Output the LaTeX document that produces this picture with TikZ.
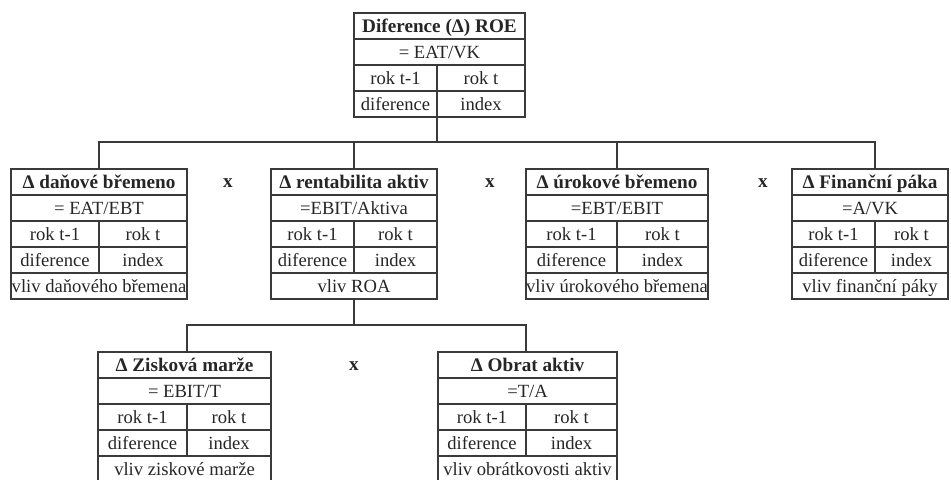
\documentclass[tikz,border=0pt]{standalone}
\usepackage{fontspec}
\setmainfont{Liberation Serif}
\usetikzlibrary{fit}
\definecolor{ln}{HTML}{3A3A3A}
\definecolor{tx}{HTML}{262626}
\tikzset{
  frame/.style={draw=ln, line width=0.7pt, inner sep=0pt},
  wire/.style={draw=ln, line width=0.7pt},
  cell/.style={text=tx, font=\fontsize{9.3}{11}\selectfont, inner sep=0pt, anchor=base},
  head/.style={cell, font=\fontsize{9.6}{11}\selectfont\bfseries},
  timesmark/.style={text=tx, font=\fontsize{9.6}{11}\selectfont\bfseries, inner sep=0pt, anchor=center},
}
\newcommand\finbox[9]{%
  \node[frame, fit={(#2,#3) (#4,#6)}] (#1) {};
  \draw[wire] (#2,#3+26) -- (#4,#3+26);
  \draw[wire] (#2,#3+52) -- (#4,#3+52);
  \draw[wire] (#2,#3+78) -- (#4,#3+78);
  \draw[wire] (#5,#3+52) -- (#5,#3+104);
  \coordinate (#1top) at (#5,#3);
  \coordinate (#1bot) at (#5,#6);
  \node[head] (#1t) at ({(#2+#4)/2},#3+19.5) {#7};
  \node[cell] (#1f) at ({(#2+#4)/2},#3+45.5) {#8};
  \node[cell] (#1a) at ({(#2+#5)/2},#3+71.5) {rok t-1};
  \node[cell] (#1b) at ({(#5+#4)/2},#3+71.5) {rok t};
  \node[cell] (#1c) at ({(#2+#5)/2},#3+97.5) {diference};
  \node[cell] (#1d) at ({(#5+#4)/2},#3+97.5) {index};
  \if\relax\detokenize{#9}\relax\else
    \draw[wire] (#2,#3+104) -- (#4,#3+104);
    \node[cell] (#1v) at ({(#2+#4)/2},#3+123.5) {#9};
  \fi
}
\begin{document}
\begin{tikzpicture}[x=0.5pt,y=-0.5pt]
\clip (0,0) rectangle (951,480);
\fill[white] (0,0) rectangle (951,480);

\finbox{roe}{354}{13}{525}{437}{117}{Diference (Δ) ROE}{= EAT/VK}{}
\finbox{b1}{11}{169}{187}{99}{299}{Δ daňové břemeno}{= EAT/EBT}{vliv daňového břemena}
\finbox{b2}{271}{169}{437}{354}{299}{Δ rentabilita aktiv}{=EBIT/Aktiva}{vliv ROA}
\finbox{b3}{526}{169}{708}{617}{299}{Δ úrokové břemeno}{=EBT/EBIT}{vliv úrokového břemena}
\finbox{b4}{792}{169}{948}{875}{299}{Δ Finanční páka}{=A/VK}{vliv finanční páky}
\finbox{c1}{98}{352}{271}{187}{484}{Δ Zisková marže}{= EBIT/T}{vliv ziskové marže}
\finbox{c2}{438}{352}{617}{526}{484}{Δ Obrat aktiv}{=T/A}{vliv obrátkovosti aktiv}

\node[timesmark] (x1) at (228,183) {x};
\node[timesmark] (x2) at (490,183) {x};
\node[timesmark] (x3) at (763,183) {x};
\node[timesmark] (x4) at (354,366) {x};

\coordinate (busA) at (438,142);
\coordinate (busB) at (354,325);
\draw[wire] (roebot) -- (roebot |- busA);
\draw[wire] (b1top) -- (b1top |- busA) -- (b4top |- busA) -- (b4top);
\draw[wire] (b2top) -- (b2top |- busA);
\draw[wire] (b3top) -- (b3top |- busA);
\draw[wire] (b2bot) -- (b2bot |- busB);
\draw[wire] (c1top) -- (c1top |- busB) -- (c2top |- busB) -- (c2top);
\end{tikzpicture}
\end{document}
